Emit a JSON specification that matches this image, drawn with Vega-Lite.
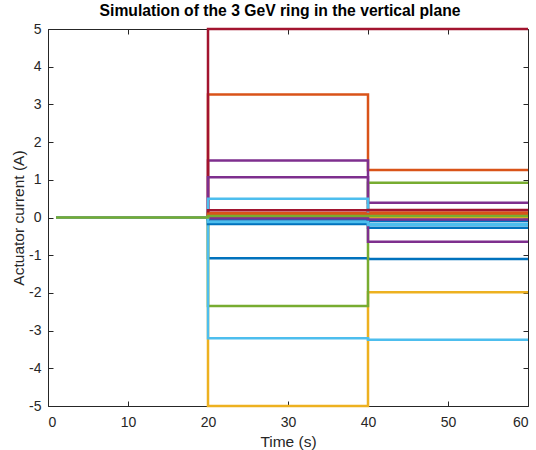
{
  "$schema": "https://vega.github.io/schema/vega-lite/v6.json",
  "width": 480,
  "height": 377,
  "autosize": {"type": "none"},
  "padding": {"left": 48, "top": 29, "right": 8, "bottom": 44},
  "background": "white",
  "title": {
    "text": "Simulation of the 3 GeV ring in the vertical plane",
    "font": "Liberation Sans",
    "fontSize": 15.7,
    "fontWeight": "bold",
    "color": "#000000",
    "offset": 2,
    "dx": -8
  },
  "config": {
    "view": {"stroke": null},
    "axis": {
      "grid": false,
      "domainColor": "#262626",
      "domainWidth": 1,
      "tickColor": "#262626",
      "tickSize": -5,
      "labelColor": "#262626",
      "labelFont": "Liberation Sans",
      "labelFontSize": 14,
      "labelExpr": "toString(datum.value)",
      "titleColor": "#262626",
      "titleFont": "Liberation Sans",
      "titleFontSize": 15.5,
      "titleFontWeight": "normal"
    }
  },
  "data": {
    "values": [
      {"series": "1", "time": 1, "current": 0}, {"series": "1", "time": 20, "current": -1.08}, {"series": "1", "time": 40, "current": -1.1}, {"series": "1", "time": 60, "current": -1.1},
      {"series": "2", "time": 1, "current": 0}, {"series": "2", "time": 20, "current": 3.26}, {"series": "2", "time": 40, "current": 1.26}, {"series": "2", "time": 60, "current": 1.26},
      {"series": "3", "time": 1, "current": 0}, {"series": "3", "time": 20, "current": -5}, {"series": "3", "time": 40, "current": -1.98}, {"series": "3", "time": 60, "current": -1.98},
      {"series": "4", "time": 1, "current": 0}, {"series": "4", "time": 20, "current": 1.51}, {"series": "4", "time": 40, "current": 0.39}, {"series": "4", "time": 60, "current": 0.39},
      {"series": "5", "time": 1, "current": 0}, {"series": "5", "time": 20, "current": -2.35}, {"series": "5", "time": 40, "current": 0.92}, {"series": "5", "time": 60, "current": 0.92},
      {"series": "6", "time": 1, "current": 0}, {"series": "6", "time": 20, "current": -3.2}, {"series": "6", "time": 40, "current": -3.24}, {"series": "6", "time": 60, "current": -3.24},
      {"series": "7", "time": 1, "current": 0}, {"series": "7", "time": 20, "current": 5}, {"series": "7", "time": 40, "current": 5}, {"series": "7", "time": 60, "current": 5},
      {"series": "8", "time": 1, "current": 0}, {"series": "8", "time": 20, "current": -0.17}, {"series": "8", "time": 40, "current": -0.27}, {"series": "8", "time": 60, "current": -0.27},
      {"series": "9", "time": 1, "current": 0}, {"series": "9", "time": 20, "current": 0.12}, {"series": "9", "time": 40, "current": 0.13}, {"series": "9", "time": 60, "current": 0.13},
      {"series": "10", "time": 1, "current": 0}, {"series": "10", "time": 20, "current": 0.01}, {"series": "10", "time": 40, "current": 0.01}, {"series": "10", "time": 60, "current": 0.01},
      {"series": "11", "time": 1, "current": 0}, {"series": "11", "time": 20, "current": 1.07}, {"series": "11", "time": 40, "current": -0.64}, {"series": "11", "time": 60, "current": -0.64},
      {"series": "12", "time": 1, "current": 0}, {"series": "12", "time": 20, "current": 0.03}, {"series": "12", "time": 40, "current": 0.03}, {"series": "12", "time": 60, "current": 0.03},
      {"series": "13", "time": 1, "current": 0}, {"series": "13", "time": 20, "current": 0.5}, {"series": "13", "time": 40, "current": -0.17}, {"series": "13", "time": 60, "current": -0.17},
      {"series": "14", "time": 1, "current": 0}, {"series": "14", "time": 20, "current": 0.19}, {"series": "14", "time": 40, "current": 0.2}, {"series": "14", "time": 60, "current": 0.2},
      {"series": "15", "time": 1, "current": 0}, {"series": "15", "time": 20, "current": -0.05}, {"series": "15", "time": 40, "current": -0.09}, {"series": "15", "time": 60, "current": -0.09},
      {"series": "16", "time": 1, "current": 0}, {"series": "16", "time": 20, "current": 0.1}, {"series": "16", "time": 40, "current": 0.1}, {"series": "16", "time": 60, "current": 0.1},
      {"series": "17", "time": 1, "current": 0}, {"series": "17", "time": 20, "current": 0}, {"series": "17", "time": 40, "current": 0}, {"series": "17", "time": 60, "current": 0},
      {"series": "18", "time": 1, "current": 0}, {"series": "18", "time": 20, "current": -0.02}, {"series": "18", "time": 40, "current": -0.05}, {"series": "18", "time": 60, "current": -0.05},
      {"series": "20", "time": 1, "current": 0}, {"series": "20", "time": 20, "current": -0.12}, {"series": "20", "time": 40, "current": -0.2}, {"series": "20", "time": 60, "current": -0.2},
      {"series": "19", "time": 1, "current": 0}, {"series": "19", "time": 20, "current": 0.04}, {"series": "19", "time": 40, "current": 0.04}, {"series": "19", "time": 60, "current": 0.04}
    ]
  },
  "layer": [
    {
      "mark": {"type": "line", "interpolate": "step-after", "strokeWidth": 2.5},
      "encoding": {
        "x": {
          "field": "time", "type": "quantitative",
          "scale": {"domain": [0, 60], "nice": false},
          "axis": {"orient": "bottom", "values": [0, 10, 20, 30, 40, 50, 60], "title": "Time (s)", "labelPadding": 14, "titlePadding": 5}
        },
        "y": {
          "field": "current", "type": "quantitative",
          "scale": {"domain": [-5, 5], "nice": false},
          "axis": {"orient": "left", "values": [-5, -4, -3, -2, -1, 0, 1, 2, 3, 4, 5], "title": "Actuator current (A)", "labelPadding": 12, "titlePadding": 2}
        },
        "color": {
          "field": "series", "type": "nominal", "legend": null,
          "scale": {
            "domain": ["1", "2", "3", "4", "5", "6", "7", "8", "9", "10", "11", "12", "13", "14", "15", "16", "17", "18", "20", "19"],
            "range": ["#0072BD", "#D95319", "#EDB120", "#7E2F8E", "#77AC30", "#4DBEEE", "#A2142F", "#0072BD", "#D95319", "#EDB120", "#7E2F8E", "#77AC30", "#4DBEEE", "#A2142F", "#0072BD", "#D95319", "#EDB120", "#7E2F8E", "#4DBEEE", "#77AC30"]
          }
        }
      }
    },
    {
      "mark": {"type": "line", "opacity": 0},
      "encoding": {
        "x": {
          "field": "time", "type": "quantitative",
          "scale": {"domain": [0, 60], "nice": false},
          "axis": {"orient": "top", "values": [0, 10, 20, 30, 40, 50, 60], "labels": false, "title": null}
        },
        "y": {
          "field": "current", "type": "quantitative",
          "scale": {"domain": [-5, 5], "nice": false},
          "axis": {"orient": "right", "values": [-5, -4, -3, -2, -1, 0, 1, 2, 3, 4, 5], "labels": false, "title": null}
        },
        "detail": {"field": "series", "type": "nominal"}
      }
    }
  ],
  "resolve": {"axis": {"x": "independent", "y": "independent"}}
}
